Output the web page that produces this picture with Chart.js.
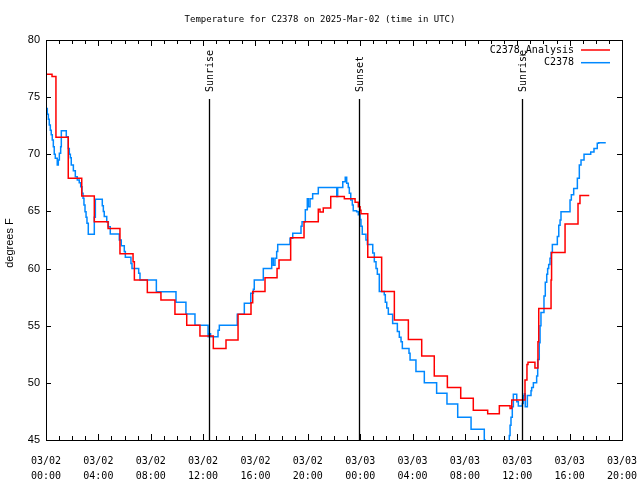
<!DOCTYPE html>
<html>
<head>
<meta charset="utf-8">
<script src="https://cdn.jsdelivr.net/npm/chart.js@4.4.1/dist/chart.umd.min.js"></script>
<style>
body { margin: 0; background: #fff; }
</style>
</head>
<body>
<canvas id="grafico" width="640" height="480"></canvas>
<script>
// hours since 03/02 00:00 UTC
const analysisHours = [0, 0.46, 0.76, 1.70, 2.73, 3.69, 4.74, 5.65, 6.65, 6.75, 7.74, 8.78, 9.85, 10.75, 11.76, 12.78, 13.75, 14.67, 15.66, 15.79, 16.73, 17.65, 17.80, 18.69, 19.71, 20.80, 20.93, 21.18, 21.75, 22.79, 23.61, 23.86, 23.99, 24.06, 24.58, 25.64, 26.61, 27.68, 28.70, 29.66, 30.66, 31.68, 32.64, 33.74, 34.63, 35.45, 35.58, 36.59, 36.74, 36.82, 37.35, 37.58, 37.64, 38.58, 38.62, 39.65, 40.64, 40.79, 41.50];
const analysisTemps = [77.0, 76.8, 71.5, 67.9, 66.35, 64.1, 63.5, 61.3, 60.6, 59.0, 57.9, 57.25, 56.0, 55.05, 54.1, 53.0, 53.75, 56.0, 57.0, 58.0, 59.2, 60.0, 60.75, 62.7, 64.1, 65.2, 64.95, 65.3, 66.3, 66.1, 65.8, 65.4, 65.1, 64.8, 61.0, 58.0, 55.5, 53.8, 52.35, 50.6, 49.6, 48.65, 47.6, 47.3, 48.0, 47.75, 48.5, 50.25, 51.6, 51.8, 51.3, 53.6, 56.5, 59.0, 61.4, 63.9, 65.7, 66.4, 66.4];

const obsHours = [0, 0.10, 0.18, 0.25, 0.33, 0.40, 0.48, 0.56, 0.63, 0.71, 0.86, 0.94, 1.02, 1.12, 1.17, 1.55, 1.70, 1.78, 1.86, 1.93, 2.09, 2.24, 2.39, 2.54, 2.65, 2.75, 2.83, 2.90, 2.98, 3.06, 3.13, 3.23, 3.69, 3.77, 4.30, 4.38, 4.45, 4.64, 4.76, 4.91, 5.60, 5.75, 5.98, 6.06, 6.49, 6.57, 7.08, 7.18, 8.43, 9.93, 10.69, 11.38, 12.38, 12.43, 12.57, 13.14, 13.24, 14.61, 15.15, 15.64, 15.84, 15.91, 16.60, 17.24, 17.36, 17.49, 17.62, 17.70, 18.64, 18.85, 19.48, 19.56, 19.81, 19.96, 20.04, 20.17, 20.37, 20.80, 22.21, 22.28, 22.67, 22.86, 22.97, 23.09, 23.17, 23.28, 23.40, 23.47, 23.73, 23.86, 23.99, 24.06, 24.16, 24.44, 24.55, 24.96, 25.08, 25.21, 25.31, 25.46, 25.84, 25.92, 26.03, 26.15, 26.48, 26.84, 26.99, 27.12, 27.22, 27.73, 27.81, 28.26, 28.90, 29.84, 30.63, 31.45, 32.47, 33.48, 33.54, 35.39, 35.45, 35.52, 35.62, 35.70, 35.96, 36.08, 36.39, 36.46, 36.54, 36.61, 36.77, 37.05, 37.10, 37.23, 37.48, 37.56, 37.68, 37.74, 37.81, 38.04, 38.14, 38.25, 38.32, 38.40, 38.50, 38.58, 38.68, 39.06, 39.17, 39.27, 39.34, 40.03, 40.13, 40.31, 40.59, 40.74, 40.87, 41.10, 41.61, 41.86, 42.11, 42.22, 42.76];
const obsTemps = [74.0, 73.5, 73.06, 72.56, 72.1, 71.7, 71.25, 70.67, 70.0, 69.65, 69.06, 69.5, 70.1, 70.67, 72.07, 71.54, 70.5, 70.0, 69.7, 69.06, 68.57, 68.04, 67.75, 67.5, 67.17, 66.6, 66.15, 65.56, 64.98, 64.5, 63.97, 63.0, 64.5, 66.06, 65.5, 65.0, 64.55, 64.1, 63.67, 63.03, 62.5, 62.0, 61.5, 60.98, 60.45, 60.0, 59.6, 59.0, 57.98, 57.05, 56.03, 55.04, 54.04, 54.3, 54.04, 54.6, 55.04, 56.0, 56.97, 57.85, 58.2, 59.0, 60.0, 60.9, 60.3, 60.9, 61.5, 62.1, 62.65, 63.1, 63.7, 64.1, 65.15, 66.1, 65.4, 66.1, 66.55, 67.1, 66.3, 67.1, 67.6, 68.0, 67.46, 67.1, 66.6, 66.0, 65.56, 65.07, 64.98, 64.7, 64.3, 63.7, 63.0, 62.5, 62.1, 61.36, 60.6, 60.0, 59.5, 58.0, 57.7, 57.05, 56.55, 56.0, 55.2, 54.5, 54.0, 53.6, 53.0, 52.6, 52.0, 51.0, 50.0, 49.1, 48.15, 47.0, 45.95, 45.0, 44.5, 45.4, 46.3, 47.0, 47.9, 49.0, 48.35, 47.97, 48.2, 48.9, 49.05, 47.9, 48.9, 49.3, 49.6, 50.0, 50.6, 52.05, 53.5, 55.0, 56.15, 57.6, 58.8, 59.5, 60.0, 60.35, 60.9, 61.4, 62.1, 62.8, 63.8, 64.25, 64.98, 66.0, 66.45, 67.0, 67.9, 69.06, 69.5, 70.0, 70.2, 70.5, 70.96, 71.0, 71.0];

const tickDates = ['03/02', '03/02', '03/02', '03/02', '03/02', '03/02', '03/03', '03/03', '03/03', '03/03', '03/03', '03/03'];
const tickTimes = ['00:00', '04:00', '08:00', '12:00', '16:00', '20:00', '00:00', '04:00', '08:00', '12:00', '16:00', '20:00'];

const eventNames = ['Sunrise', 'Sunset', 'Sunrise'];
const eventHours = [12.45, 23.90, 36.35];

const seriesNames = ['C2378_Analysis', 'C2378'];
const seriesColors = ['#ff0000', '#0088ff'];

const mono = "'DejaVu Sans Mono', monospace";
const sans = "'Liberation Sans', Arial, sans-serif";

// moldura, ticks para dentro, eventos, legenda, titulos
const decor = {
    id: 'decor',
    afterDatasetsDraw(chart) {
        const c = chart.ctx;
        const a = chart.chartArea;
        const x = chart.scales.x;
        const y = chart.scales.y;
        c.save();
        c.strokeStyle = '#000';
        c.lineWidth = 1;
        c.beginPath();
        for (let h = 0; h <= 44; h++) {
            const px = Math.round(x.getPixelForValue(h)) + 0.5;
            const len = h % 4 === 0 ? 6 : 4;
            c.moveTo(px, a.bottom); c.lineTo(px, a.bottom - len);
            c.moveTo(px, a.top); c.lineTo(px, a.top + len);
        }
        for (let v = 45; v <= 80; v += 5) {
            const py = Math.round(y.getPixelForValue(v)) + 0.5;
            c.moveTo(a.left, py); c.lineTo(a.left + 5, py);
            c.moveTo(a.right, py); c.lineTo(a.right - 5, py);
        }
        c.stroke();
        c.strokeRect(Math.round(a.left) + 0.5, Math.round(a.top) + 0.5, Math.round(a.right - a.left), Math.round(a.bottom - a.top));

        // linhas do sol
        c.lineWidth = 1.3;
        c.font = '10px ' + mono;
        c.fillStyle = '#000';
        eventHours.forEach((h, i) => {
            const px = Math.round(x.getPixelForValue(h)) + 0.5;
            c.beginPath();
            c.moveTo(px, a.top + 59);
            c.lineTo(px, a.bottom);
            c.stroke();
            c.save();
            c.translate(px + 1, a.top + 52);
            c.rotate(-Math.PI / 2);
            c.textAlign = 'left';
            c.textBaseline = 'middle';
            c.fillText(eventNames[i], 0, 0);
            c.restore();
        });

        // legenda
        c.textAlign = 'right';
        c.textBaseline = 'middle';
        seriesNames.forEach((n, i) => {
            const ly = a.top + 10 + i * 12.7;
            c.fillText(n, a.right - 48, ly);
            c.strokeStyle = seriesColors[i];
            c.lineWidth = 1.5;
            c.beginPath();
            c.moveTo(a.right - 41, ly);
            c.lineTo(a.right - 12, ly);
            c.stroke();
        });

        // titulo e eixo y
        c.fillStyle = '#000';
        c.font = '9px ' + mono;
        c.textAlign = 'center';
        c.fillText('Temperature for C2378 on 2025-Mar-02 (time in UTC)', 320, 20);
        c.save();
        c.translate(10, 243);
        c.rotate(-Math.PI / 2);
        c.font = '11px ' + sans;
        c.fillText('degrees F', 0, 0);
        c.restore();
        c.restore();
    }
};

const ctx = document.getElementById('grafico').getContext('2d');
const grafico = new Chart(ctx, {
    type: 'line',
    data: {
        datasets: [
            {
                label: seriesNames[0],
                data: analysisHours.map((h, i) => ({ x: h, y: analysisTemps[i] })),
                borderColor: seriesColors[0],
                borderWidth: 1.5,
                stepped: 'before',
                pointRadius: 0,
                fill: false,
                clip: 0
            },
            {
                label: seriesNames[1],
                data: obsHours.map((h, i) => ({ x: h, y: obsTemps[i] })),
                borderColor: seriesColors[1],
                borderWidth: 1.5,
                stepped: 'before',
                pointRadius: 0,
                fill: false,
                clip: 0
            }
        ]
    },
    options: {
        responsive: false,
        animation: false,
        layout: { padding: { top: 40, right: 18, left: 0, bottom: 0 } },
        plugins: {
            legend: { display: false },
            title: { display: false },
            tooltip: { enabled: false }
        },
        scales: {
            x: {
                type: 'linear',
                min: 0,
                max: 44,
                afterFit: s => { s.height = 40; s.paddingLeft = 0; s.paddingRight = 0; },
                grid: { display: false, drawTicks: false },
                border: { display: false },
                ticks: {
                    stepSize: 4,
                    maxRotation: 0,
                    autoSkip: false,
                    padding: 14,
                    color: '#000',
                    font: { family: mono, size: 10, lineHeight: 1.5 },
                    callback: (v, i) => [tickDates[i], tickTimes[i]]
                }
            },
            y: {
                min: 45,
                max: 80,
                afterFit: s => { s.width = 46; s.paddingTop = 0; s.paddingBottom = 0; },
                grid: { display: false, drawTicks: false },
                border: { display: false },
                ticks: {
                    stepSize: 5,
                    padding: 6,
                    color: '#000',
                    font: { family: sans, size: 11 }
                }
            }
        }
    },
    plugins: [decor]
});
</script>
</body>
</html>
